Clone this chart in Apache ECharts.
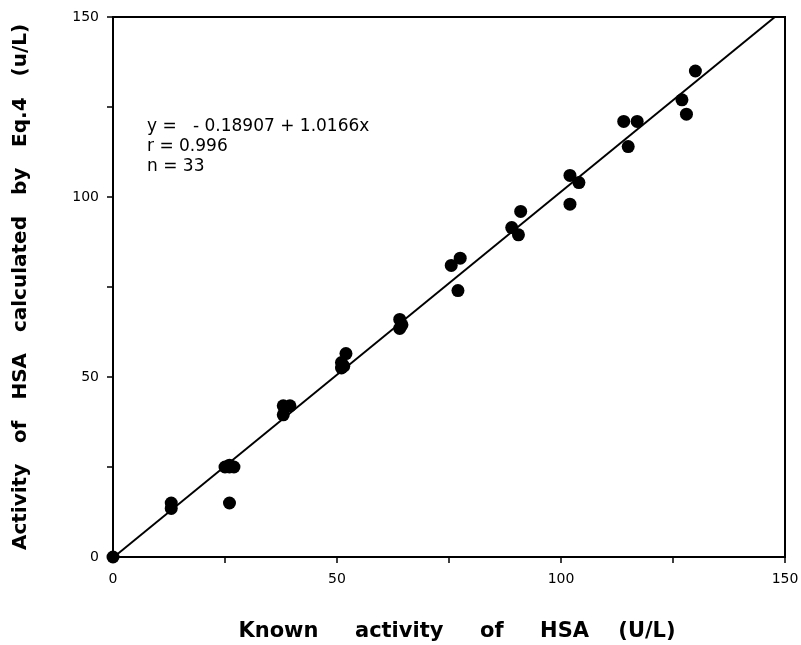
<!DOCTYPE html>
<html>
<head>
<meta charset="utf-8">
<script src="https://cdn.jsdelivr.net/npm/echarts@6/dist/echarts.min.js"></script>
<style>
  html, body { margin: 0; padding: 0; background: #fff; }
  #chart { width: 801px; height: 645px; }
</style>
</head>
<body>
<div id="chart"></div>
<script>
// known activity (U/L) vs activity calculated by Eq.4
var knownX = [0, 13, 13, 25, 26, 27, 26, 26, 38, 38, 39.5, 51, 51, 51.5, 52, 64, 64, 64.5,
  75.5, 77.5, 77, 89, 90.5, 91, 102, 102, 104, 114, 117, 115, 127, 128, 130];
var calcY = [0, 13.5, 15, 25, 25, 25, 25.5, 15, 39.5, 42, 42, 52.5, 54, 53, 56.5, 63.5, 66, 64.5,
  81, 83, 74, 91.5, 89.5, 96, 98, 106, 104, 121, 121, 114, 127, 123, 135];
var intercept = -0.18907;
var slope = 1.0166;
var tickLabels = ['0', '50', '100', '150'];

var points = knownX.map(function (x, i) { return [x, calcY[i]]; });
var xEnd = (150 - intercept) / slope;
var fitLine = [[0, intercept], [xEnd, intercept + slope * xEnd]];

var chart = echarts.init(document.getElementById('chart'));

var axisCommon = {
  type: 'value',
  min: 0,
  max: 150,
  interval: 25,
  axisLine: { show: true, lineStyle: { color: '#000', width: 2 } },
  axisTick: { show: true, length: 6, inside: false, lineStyle: { color: '#000', width: 1.5 } },
  splitLine: { show: false },
  nameLocation: 'middle',
  nameTextStyle: { color: '#000', fontSize: 20, fontWeight: 'bold', fontFamily: 'DejaVu Sans' },
  axisLabel: {
    color: '#000', fontSize: 14, fontFamily: 'DejaVu Sans', margin: 14,
    formatter: function (v) { return tickLabels.indexOf(String(v)) >= 0 ? String(v) : ''; }
  }
};

var option = {
  animation: false,
  backgroundColor: '#fff',
  grid: {
    left: 113, right: 16, top: 17, bottom: 88,
    outerBoundsMode: 'none',
    containLabel: false,
    show: true, borderColor: '#000', borderWidth: 2
  },
  xAxis: Object.assign({}, axisCommon, {
    name: 'Known     activity     of     HSA    (U/L)',
    nameGap: 64,
    nameTextStyle: Object.assign({}, axisCommon.nameTextStyle, { fontSize: 21, padding: [0, 0, 0, 16] }),
    axisLabel: Object.assign({}, axisCommon.axisLabel, { margin: 15 })
  }),
  yAxis: Object.assign({}, axisCommon, {
    name: 'Activity   of   HSA   calculated   by   Eq.4   (u/L)',
    nameGap: 82
  }),
  graphic: [{
    type: 'text',
    left: 147,
    top: 117,
    style: {
      text: 'y =   - 0.18907 + 1.0166x\nr = 0.996\nn = 33',
      fill: '#000',
      font: '17px "DejaVu Sans"',
      lineHeight: 20
    }
  }],
  series: [
    {
      type: 'line',
      data: fitLine,
      symbol: 'none',
      lineStyle: { color: '#000', width: 2 },
      z: 2
    },
    {
      type: 'scatter',
      data: points,
      symbol: 'circle',
      symbolSize: 13,
      itemStyle: { color: '#000', opacity: 1 },
      clip: false,
      z: 3
    }
  ]
};

chart.setOption(option);
</script>
</body>
</html>
